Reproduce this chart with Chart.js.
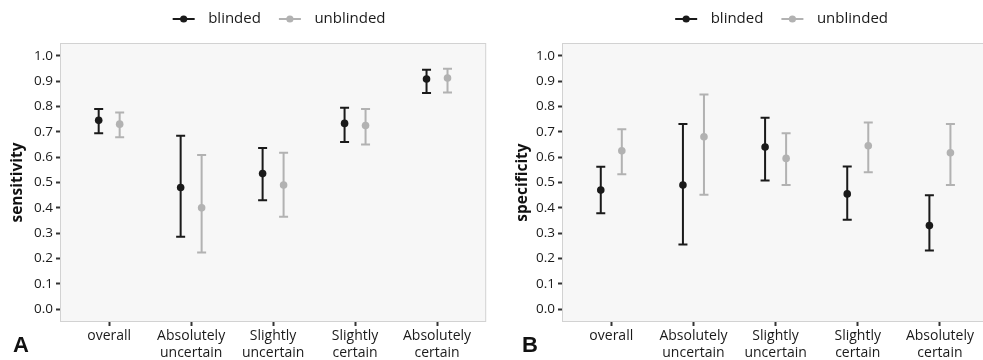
<!DOCTYPE html>
<html lang="en">
<head>
  <meta charset="UTF-8">
  <title>Sensitivity and specificity, blinded vs unblinded</title>
  <script src="https://cdn.jsdelivr.net/npm/chart.js@4"></script>
  <style>
    html, body { margin: 0; padding: 0; background: #fff; overflow: hidden; }
    #wrap { position: relative; width: 983px; height: 360px; overflow: hidden; }
    .panel { position: absolute; top: 0; height: 360px; }
    #panelA { left: 0; width: 490px; }
    #panelB { left: 490px; width: 503px; }
  </style>
</head>
<body>
  <div id="wrap">
    <div class="panel" id="panelA"><canvas id="chartA"></canvas></div>
    <div class="panel" id="panelB"><canvas id="chartB"></canvas></div>
  </div>

  <script>
    // data
    const categories = ['overall', ['Absolutely', 'uncertain'], ['Slightly', 'uncertain'], ['Slightly', 'certain'], ['Absolutely', 'certain']]
    const yTicks = [0.0, 0.1, 0.2, 0.3, 0.4, 0.5, 0.6, 0.7, 0.8, 0.9, 1.0]
    const seriesNames = ['blinded', 'unblinded']

    const sensBlinded = [0.745, 0.48, 0.535, 0.733, 0.908]
    const sensBlindedLo = [0.694, 0.286, 0.43, 0.66, 0.853]
    const sensBlindedHi = [0.79, 0.684, 0.636, 0.795, 0.945]
    const sensUnblinded = [0.73, 0.40, 0.49, 0.725, 0.912]
    const sensUnblindedLo = [0.678, 0.224, 0.365, 0.65, 0.855]
    const sensUnblindedHi = [0.776, 0.608, 0.617, 0.79, 0.948]

    const specBlinded = [0.47, 0.49, 0.64, 0.455, 0.33]
    const specBlindedLo = [0.379, 0.256, 0.508, 0.353, 0.232]
    const specBlindedHi = [0.562, 0.731, 0.755, 0.563, 0.45]
    const specUnblinded = [0.625, 0.68, 0.595, 0.645, 0.617]
    const specUnblindedLo = [0.533, 0.452, 0.49, 0.54, 0.49]
    const specUnblindedHi = [0.71, 0.847, 0.694, 0.737, 0.731]

    const BLACK = '#1a1a1a'
    const GREY = '#b2b2b2'
    const DODGE = 0.128
    const FONT = '"Open Sans", "Noto Sans", sans-serif'
    const LEGEND_SIZE = 15

    // panel background, error bars, legend symbols, panel letter
    const panelPlugin = {
      id: 'panel',
      beforeDraw (chart) {
        const { ctx, chartArea: a } = chart
        ctx.save()
        ctx.fillStyle = '#f7f7f7'
        ctx.fillRect(a.left, a.top, a.right - a.left, a.bottom - a.top)
        ctx.strokeStyle = '#d2d2d2'
        ctx.lineWidth = 1
        ctx.strokeRect(a.left + 0.5, a.top + 0.5, a.right - a.left - 1, a.bottom - a.top - 1)
        ctx.restore()
      },
      beforeDatasetsDraw (chart) {
        const { ctx, scales: { x, y } } = chart
        ctx.save()
        chart.data.datasets.forEach(ds => {
          ctx.strokeStyle = ds.borderColor
          ctx.lineWidth = 2
          ds.data.forEach((p, j) => {
            const px = x.getPixelForValue(p.x)
            const lo = y.getPixelForValue(ds.lo[j])
            const hi = y.getPixelForValue(ds.hi[j])
            ctx.beginPath()
            ctx.moveTo(px, lo); ctx.lineTo(px, hi)
            ctx.moveTo(px - 4.5, lo); ctx.lineTo(px + 4.5, lo)
            ctx.moveTo(px - 4.5, hi); ctx.lineTo(px + 4.5, hi)
            ctx.stroke()
          })
        })
        ctx.restore()
      },
      afterDraw (chart, args, opts) {
        const { ctx } = chart
        ctx.save()
        const boxes = chart.legend.legendHitBoxes || []
        boxes.forEach((hb, i) => {
          const c = chart.data.datasets[i].borderColor
          const cy = hb.top + LEGEND_SIZE / 2
          ctx.strokeStyle = c
          ctx.lineWidth = 2
          ctx.beginPath()
          ctx.moveTo(hb.left + 12, cy); ctx.lineTo(hb.left + 34, cy)
          ctx.stroke()
          ctx.fillStyle = c
          ctx.beginPath()
          ctx.arc(hb.left + 23, cy, 3.6, 0, Math.PI * 2)
          ctx.fill()
        })
        ctx.fillStyle = '#111'
        ctx.font = 'bold 22px "Liberation Sans", Arial, sans-serif'
        ctx.textBaseline = 'alphabetic'
        ctx.fillText(opts.letter, opts.letterX, 352)
        ctx.restore()
      }
    }

    const makeChart = (id, yTitle, blinded, bLo, bHi, unblinded, uLo, uHi, axisWidth, titlePad, letter, letterX) => {
      const sets = [
        { vals: blinded, lo: bLo, hi: bHi, color: BLACK, shift: -DODGE },
        { vals: unblinded, lo: uLo, hi: uHi, color: GREY, shift: DODGE }
      ]
      return new Chart(document.getElementById(id), {
        type: 'scatter',
        data: {
          datasets: sets.map((s, k) => ({
            label: seriesNames[k],
            data: s.vals.map((v, i) => ({ x: i + 1 + s.shift, y: v })),
            lo: s.lo,
            hi: s.hi,
            backgroundColor: s.color,
            borderColor: s.color,
            borderWidth: 0,
            pointRadius: 3.8,
            pointHoverRadius: 3.8
          }))
        },
        options: {
          responsive: true,
          maintainAspectRatio: false,
          animation: false,
          layout: { padding: { top: 5.5, right: 3, left: 0, bottom: 0 } },
          plugins: {
            tooltip: { enabled: false },
            legend: {
              position: 'top',
              fullSize: false,
              labels: {
                boxWidth: 40,
                boxHeight: 2,
                padding: 6,
                color: '#1a1a1a',
                font: { family: FONT, size: LEGEND_SIZE },
                generateLabels: c => Chart.defaults.plugins.legend.labels.generateLabels(c)
                  .map(l => ({ ...l, fillStyle: 'rgba(0,0,0,0)', strokeStyle: 'rgba(0,0,0,0)', lineWidth: 0 }))
              }
            },
            // empty spacer between legend and plot
            subtitle: {
              display: true,
              text: '',
              weight: 500,
              fullSize: false,
              font: { size: 1, lineHeight: 1 },
              padding: { top: 5.5, bottom: 0 }
            },
            panel: { letter, letterX }
          },
          scales: {
            x: {
              type: 'linear',
              min: 0.4,
              max: 5.6,
              afterBuildTicks: s => { s.ticks = categories.map((c, i) => ({ value: i + 1 })) },
              afterFit: s => { s.height = 38 },
              ticks: {
                autoSkip: false,
                maxRotation: 0,
                padding: 2,
                color: '#1a1a1a',
                font: { family: FONT, size: 14 },
                callback: v => categories[Math.round(v) - 1]
              },
              grid: { drawOnChartArea: false, tickLength: 4, tickWidth: 2, tickColor: '#333' },
              border: { display: false }
            },
            y: {
              min: -0.05,
              max: 1.05,
              afterBuildTicks: s => { s.ticks = yTicks.map(v => ({ value: v })) },
              afterFit: s => { s.width = axisWidth },
              ticks: {
                padding: 3,
                color: '#1a1a1a',
                font: { family: FONT, size: 13.5 },
                callback: v => v.toFixed(1)
              },
              title: {
                display: true,
                text: yTitle,
                color: '#111',
                font: { family: FONT, size: 15.5, weight: 'bold' },
                padding: { top: titlePad, bottom: 0 }
              },
              grid: { drawOnChartArea: false, tickLength: 4, tickWidth: 2, tickColor: '#333' },
              border: { display: false }
            }
          }
        },
        plugins: [panelPlugin]
      })
    }

    makeChart('chartA', 'sensitivity', sensBlinded, sensBlindedLo, sensBlindedHi,
      sensUnblinded, sensUnblindedLo, sensUnblindedHi, 60, 8, 'A', 13)
    makeChart('chartB', 'specificity', specBlinded, specBlindedLo, specBlindedHi,
      specUnblinded, specUnblindedLo, specUnblindedHi, 72, 23, 'B', 32)
  </script>
</body>
</html>
